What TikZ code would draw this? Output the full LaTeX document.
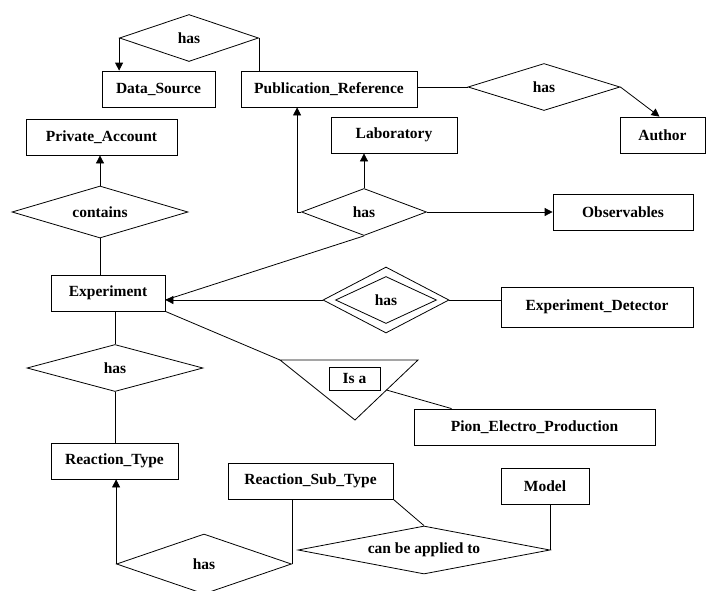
\documentclass[tikz,border=0pt]{standalone}
\usepackage{fontspec}
\setmainfont{Liberation Serif}
\usetikzlibrary{shapes.geometric, arrows.meta, calc}

\begin{document}
\begin{tikzpicture}[
    x=1pt, y=-1pt,
    entity/.style={draw, minimum height=36pt, inner sep=2pt,
                  font=\bfseries\fontsize{15.5}{17}\selectfont},
    rel/.style={draw, diamond, aspect=3, inner sep=1pt,
                font=\bfseries\fontsize{15.5}{17}\selectfont},
    arr/.style={-{Triangle[length=8pt, width=8pt]}},
    line width=0.8pt
]
\useasboundingbox (0,0) rectangle (713,590);

% --- Entities ---
\node[entity, minimum width=113pt] (datasrc) at (158.5,89) {Data\_Source};
\node[entity, minimum width=176pt] (pubref) at (329,89) {Publication\_Reference};
\node[entity, minimum width=85pt] (author) at (662.5,135) {Author};
\node[entity, minimum width=151pt] (private) at (101.5,137) {Private\_Account};
\node[entity, minimum width=126pt] (lab) at (394,135) {Laboratory};
\node[entity, minimum width=140pt] (obs) at (623,212) {Observables};
\node[entity, minimum width=114pt] (exp) at (108,293) {Experiment};
\node[entity, minimum width=192pt, minimum height=40pt] (det) at (597,307) {Experiment\_Detector};
\node[entity, minimum width=241pt] (pion) at (534.5,427) {Pion\_Electro\_Production};
\node[entity, minimum width=127pt] (rtype) at (114.5,461) {Reaction\_Type};
\node[entity, minimum width=165pt] (rsub) at (310.5,481) {Reaction\_Sub\_Type};
\node[entity, minimum width=88pt] (model) at (545,486) {Model};

% --- Relationships ---
\node[rel, minimum width=139pt, minimum height=47pt] (srchas) at (189,38) {has};
\node[rel, minimum width=152pt, minimum height=47pt] (authhas) at (544,87) {has};
\node[rel, minimum width=125pt, minimum height=47pt] (labhas) at (364,212) {has};
\node[rel, minimum width=176pt, minimum height=52pt] (contains) at (100,212) {contains};
\node[rel, minimum width=126pt, minimum height=66pt] (dethas) at (386,300) {has};
\node[draw, diamond, aspect=2, minimum width=101pt, minimum height=47pt] (dethasin) at (dethas) {};
\node[rel, minimum width=176pt, minimum height=47pt] (typehas) at (115,368) {has};
\node[rel, minimum width=175pt, minimum height=60pt] (subhas) at (204,564) {has};
\node[rel, aspect=5, minimum width=252pt, minimum height=48pt] (applied) at (424,550) {can be applied to};

% --- Is a triangle ---
\coordinate (isaL) at (280,360);
\coordinate (isaR) at (418,360);
\coordinate (isaB) at (355,420);
\draw (isaL) -- (isaR) -- (isaB) -- cycle;
\node[draw, minimum width=51pt, minimum height=23pt, inner sep=1pt,
      font=\bfseries\fontsize{15.5}{17}\selectfont] (isa) at (354.5,378.5) {Is a};
\coordinate (isaedge) at ($(isaR)!0.5!(isaB)$);

% --- Connectors ---
\draw[arr] (srchas.west) -- (srchas.west |- datasrc.north);
\draw (srchas.east) -- (srchas.east |- pubref.north);
\draw (pubref.east |- authhas.west) -- (authhas.west);
\draw[arr] (authhas.east) -- ([xshift=-3pt]author.north);

\draw[arr] (contains.north) -- (contains.north |- private.south);
\draw (contains.south) -- (contains.south |- exp.north);

\draw[arr] (labhas.west) -- ++(-4,0) coordinate (bend) -- (bend |- pubref.south);
\draw[arr] (labhas.north) -- (labhas.north |- lab.south);
\draw[arr] (labhas.east) -- (labhas.east -| obs.west);
\draw (labhas.south) -- (dethas.west -| exp.east);

\draw[arr] (dethas.west) -- (dethas.west -| exp.east);
\draw (dethas.east) -- (dethas.east -| det.west);

\draw (exp.south east) -- (isaL);
\draw (isaedge) -- ([xshift=38pt]pion.north west);

\draw (typehas.north |- exp.south) -- (typehas.north);
\draw (typehas.south) -- (typehas.south |- rtype.north);

\draw[arr] (subhas.west) -- (subhas.west |- rtype.south);
\draw (subhas.east) -- (subhas.east |- rsub.south);
\draw (rsub.south east) -- (applied.north);
\draw (applied.east) -- (applied.east |- model.south);

\end{tikzpicture}
\end{document}
